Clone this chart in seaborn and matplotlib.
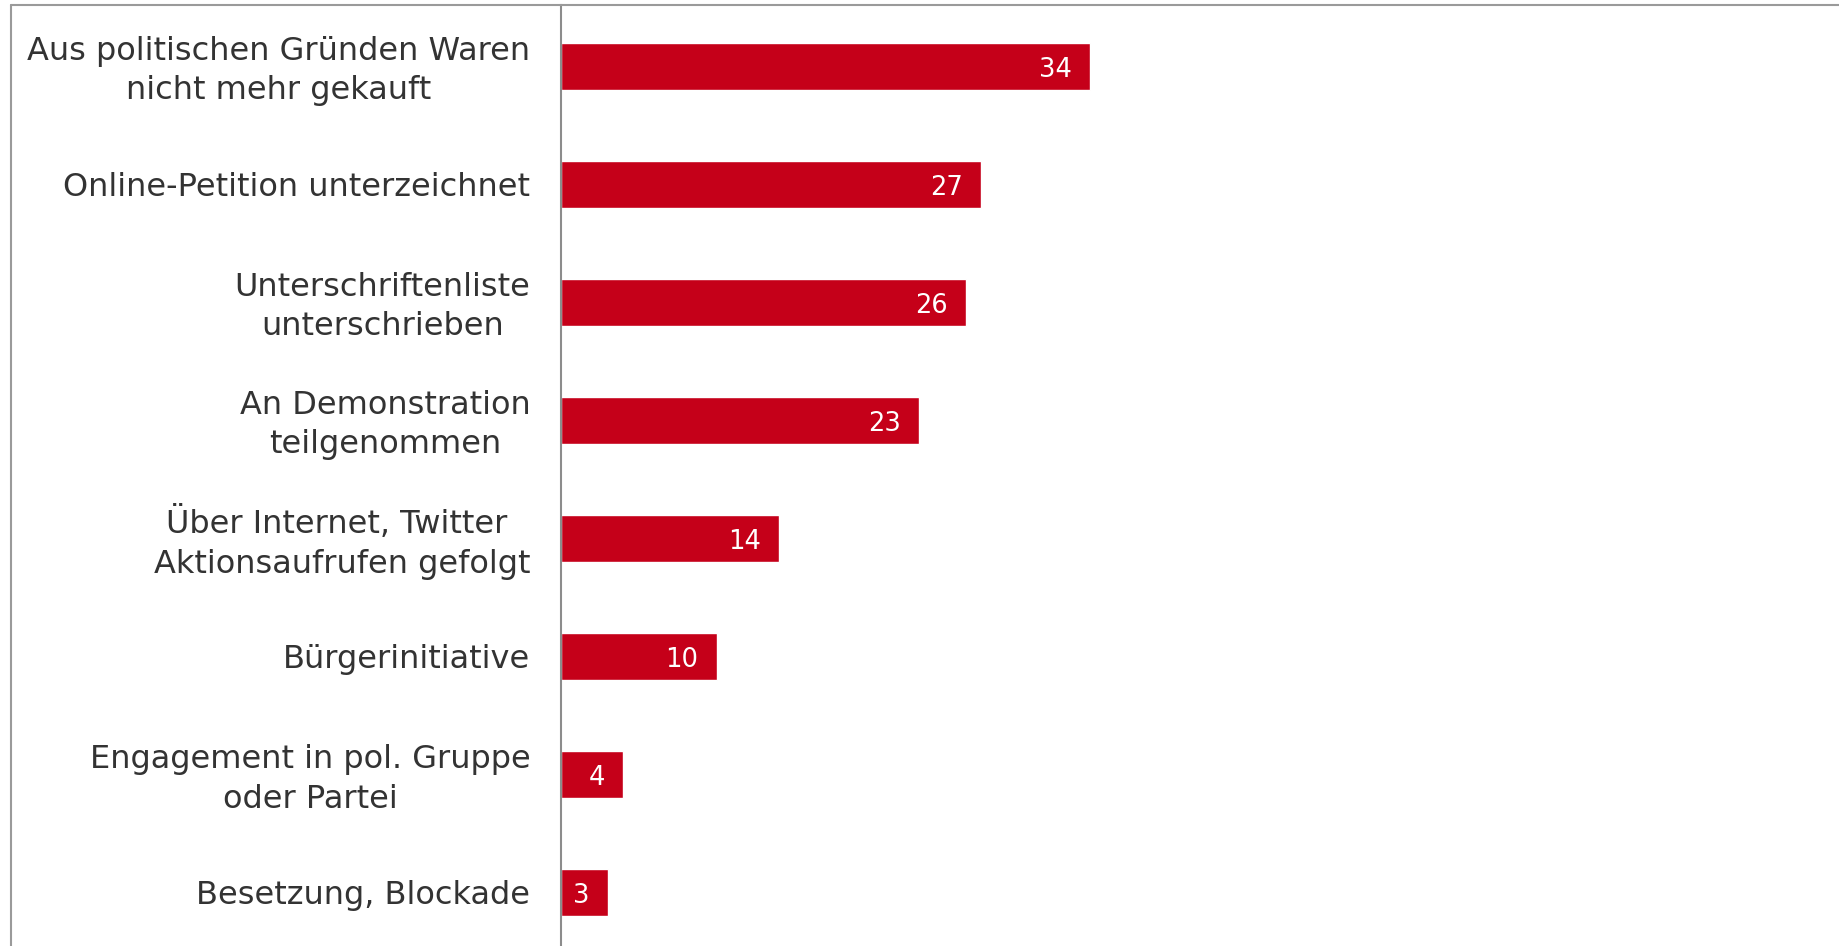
import matplotlib.pyplot as plt
import seaborn as sns
import pandas as pd
from matplotlib.lines import Line2D

categories = [
    'Aus politischen Gründen Waren\nnicht mehr gekauft',
    'Online-Petition unterzeichnet',
    'Unterschriftenliste\nunterschrieben',
    'An Demonstration\nteilgenommen',
    'Über Internet, Twitter \nAktionsaufrufen gefolgt',
    'Bürgerinitiative',
    'Engagement in pol. Gruppe\noder Partei',
    'Besetzung, Blockade',
]
values = [34, 27, 26, 23, 14, 10, 4, 3]

bar_color = '#C50019'
text_color = '#333333'
border_color = '#9a9a9a'

df = pd.DataFrame({'category': categories, 'value': values})

sns.set_theme(style='white')
plt.rcParams['font.family'] = ['DejaVu Sans']

W, H = 1839, 946
fig = plt.figure(figsize=(W / 100, H / 100), dpi=100)
# axes: left at x=561 px, spanning from the top border to the bottom
ax = fig.add_axes([561 / W, 0, 1 - 561 / W, (H - 5) / H])

sns.barplot(data=df, x='value', y='category', orient='h', color=bar_color,
            saturation=1, width=0.4, ax=ax)

# value labels inside the bar end
for i, v in enumerate(values):
    ax.annotate(str(v), xy=(v, i), xytext=(-13, -2.5), textcoords='offset points',
                ha='right', va='center', color='white', fontsize=18.5)

# category labels, centred on the bars
ax.set_yticks(range(len(categories)))
ax.set_yticklabels([])
for i, cat in enumerate(categories):
    dy = -3.2 if '\n' in cat else -2
    ax.annotate(cat, xy=(0, i), xytext=(-22, dy), textcoords='offset points',
                ha='right', va='center', multialignment='center',
                linespacing=1.36, fontsize=23, color=text_color,
                annotation_clip=False)

ax.set_xlim(0, (W - 561) / 15.56)
ax.set_ylim(7.45, -0.52)
ax.set_xlabel('')
ax.set_ylabel('')
ax.set_xticks([])
ax.tick_params(axis='y', length=0)

for side in ['top', 'right', 'bottom']:
    ax.spines[side].set_visible(False)
ax.spines['left'].set_color('#8c8c8c')
ax.spines['left'].set_linewidth(1.5)

# outer frame lines (top and left)
fig.add_artist(Line2D([10.5 / W, 1], [1 - 5 / H, 1 - 5 / H],
                      transform=fig.transFigure, color=border_color, lw=1.5))
fig.add_artist(Line2D([10.5 / W, 10.5 / W], [0, 1 - 5 / H],
                      transform=fig.transFigure, color=border_color, lw=1.5))

fig.savefig('out.png', dpi=100)
plt.close(fig)
